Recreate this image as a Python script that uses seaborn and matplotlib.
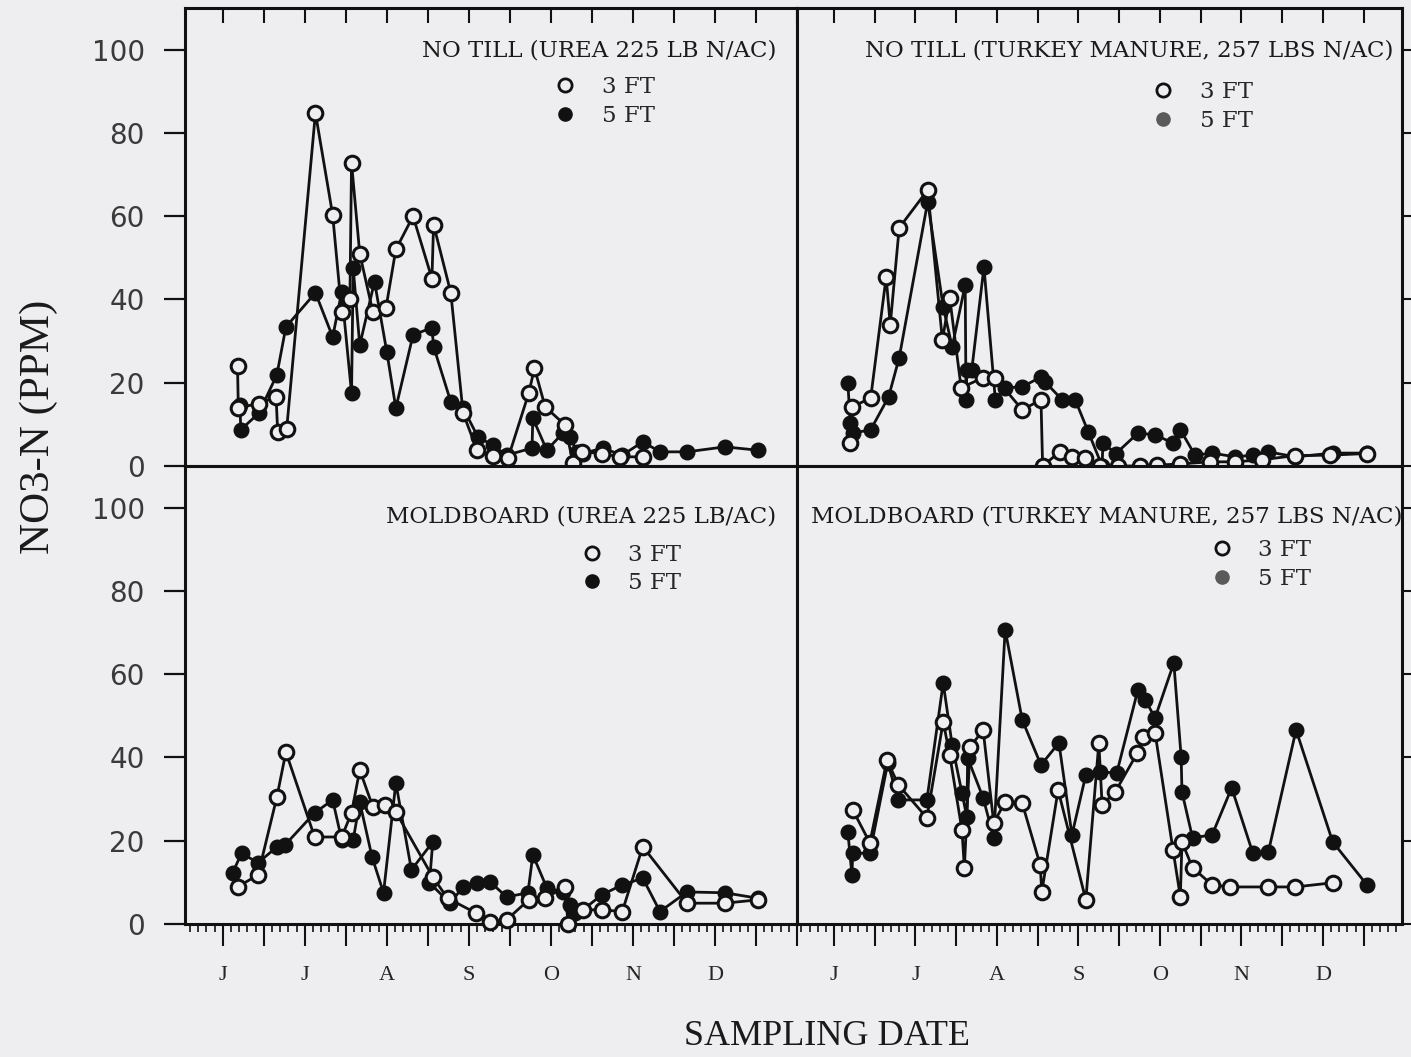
import matplotlib
matplotlib.use("Agg")
import matplotlib.pyplot as plt
import seaborn as sns
from matplotlib.lines import Line2D
from matplotlib.ticker import MultipleLocator, FuncFormatter

# ---------------- data (x in month units: 6.0 = 1 June ... 12.0 = 1 Dec) ----------------
month_ticks = [6, 7, 8, 9, 10, 11, 12]
month_labels = ["J", "J", "A", "S", "O", "N", "D"]
y_ticks = [0, 20, 40, 60, 80, 100]

titles = ["NO TILL (UREA 225 LB N/AC)",
          "NO TILL (TURKEY MANURE, 257 LBS N/AC)",
          "MOLDBOARD (UREA 225 LB/AC)",
          "MOLDBOARD (TURKEY MANURE, 257 LBS N/AC)"]
series_labels = ["3 FT", "5 FT"]

# No till, urea
nt_urea_3ft_x = [6.18, 6.19, 6.44, 6.65, 6.67, 6.78, 7.13, 7.34, 7.45, 7.55, 7.57, 7.67, 7.83, 7.99,
                 8.11, 8.32, 8.55, 8.57, 8.78, 8.93, 9.10, 9.29, 9.48, 9.73, 9.80, 9.93,
                 10.17, 10.27, 10.38, 10.62, 10.84, 11.12]
nt_urea_3ft_y = [24.0, 14.0, 15.0, 16.6, 8.2, 9.0, 84.8, 60.3, 37.0, 40.0, 72.8, 51.0, 37.0, 38.0,
                 52.0, 60.0, 45.0, 58.0, 41.6, 12.7, 3.8, 2.5, 2.0, 17.5, 23.5, 14.2,
                 9.9, 0.7, 3.4, 3.0, 2.2, 2.2]
nt_urea_5ft_x = [6.21, 6.22, 6.44, 6.66, 6.77, 7.13, 7.34, 7.45, 7.57, 7.59, 7.67, 7.85,
                 8.00, 8.11, 8.32, 8.55, 8.57, 8.78, 8.93, 9.11, 9.29, 9.46, 9.77, 9.78, 9.95,
                 10.15, 10.23, 10.32, 10.39, 10.63, 10.87, 11.12, 11.33, 11.66, 12.12, 12.52]
nt_urea_5ft_y = [14.7, 8.7, 12.7, 21.9, 33.4, 41.6, 31.0, 41.8, 17.5, 47.6, 29.0, 44.3,
                 27.4, 13.9, 31.5, 33.2, 28.7, 15.4, 13.9, 7.0, 5.0, 2.6, 4.3, 11.5, 3.8,
                 8.0, 7.0, 3.4, 3.0, 4.3, 2.6, 5.8, 3.4, 3.4, 4.6, 3.8]

# No till, turkey manure
nt_turkey_3ft_x = [6.20, 6.22, 6.45, 6.64, 6.69, 6.80, 7.15, 7.33, 7.42, 7.56, 7.83, 7.98,
                   8.31, 8.54, 8.56, 8.77, 8.92, 9.08, 9.26, 9.48, 9.75, 9.96,
                   10.25, 10.61, 10.92, 11.25, 11.66, 12.09, 12.54]
nt_turkey_3ft_y = [5.5, 14.2, 16.3, 45.4, 33.9, 57.2, 66.3, 30.3, 40.4, 18.8, 21.2, 21.2,
                   13.5, 15.9, 0.0, 3.4, 2.2, 1.9, 0.0, 0.0, 0.0, 0.2,
                   0.5, 1.0, 1.0, 1.5, 2.5, 2.6, 3.0]
nt_turkey_5ft_x = [6.17, 6.20, 6.23, 6.45, 6.67, 6.80, 7.15, 7.34, 7.45, 7.61, 7.62, 7.63, 7.69,
                   7.84, 7.98, 8.10, 8.31, 8.54, 8.59, 8.80, 8.96, 9.12, 9.29, 9.30, 9.46,
                   9.73, 9.94, 10.16, 10.25, 10.43, 10.64, 10.92, 11.14, 11.33, 11.66, 12.12, 12.54]
nt_turkey_5ft_y = [19.9, 10.3, 7.9, 8.7, 16.6, 26.0, 63.5, 38.2, 28.6, 43.5, 15.9, 23.0, 23.0,
                   47.8, 15.9, 18.8, 19.0, 21.4, 20.2, 15.9, 15.9, 8.2, 0.0, 5.5, 3.0,
                   7.9, 7.5, 5.5, 8.7, 2.6, 3.1, 2.2, 2.6, 3.4, 2.2, 3.1, 3.1]

# Moldboard, urea
mb_urea_3ft_x = [6.18, 6.43, 6.66, 6.77, 7.12, 7.45, 7.57, 7.67, 7.83, 7.98, 8.11, 8.56, 8.74,
                 9.09, 9.26, 9.46, 9.73, 9.93, 10.17, 10.21, 10.39, 10.62, 10.87,
                 11.12, 11.66, 12.12, 12.52]
mb_urea_3ft_y = [8.9, 11.8, 30.5, 41.3, 20.9, 20.9, 26.7, 37.0, 28.1, 28.6, 26.9, 11.3, 6.2,
                 2.6, 0.5, 1.0, 5.8, 6.2, 8.9, 0.0, 3.4, 3.4, 3.0,
                 18.6, 5.0, 5.0, 5.8]
mb_urea_5ft_x = [6.12, 6.23, 6.43, 6.66, 6.76, 7.12, 7.34, 7.45, 7.59, 7.67, 7.82, 7.96,
                 8.11, 8.30, 8.56, 8.52, 8.77, 8.93, 9.10, 9.26, 9.46, 9.72, 9.78, 9.95,
                 10.15, 10.23, 10.29, 10.39, 10.62, 10.87, 11.12, 11.33, 11.66, 12.12, 12.52]
mb_urea_5ft_y = [12.3, 17.0, 14.7, 18.5, 19.0, 26.7, 29.8, 20.2, 20.2, 29.3, 16.1, 7.5,
                 33.9, 13.0, 19.7, 9.9, 5.0, 8.9, 9.9, 10.1, 6.5, 7.5, 16.6, 8.7,
                 7.7, 4.6, 2.6, 3.4, 7.0, 9.4, 11.0, 3.0, 7.7, 7.5, 6.2]

# Moldboard, turkey manure
mb_turkey_3ft_x = [6.23, 6.44, 6.65, 6.79, 7.14, 7.34, 7.42, 7.57, 7.60, 7.67, 7.83, 7.96,
                   8.10, 8.31, 8.53, 8.55, 8.75, 9.09, 9.25, 9.29, 9.45, 9.72, 9.79, 9.94,
                   10.16, 10.25, 10.27, 10.40, 10.64, 10.86, 11.33, 11.66, 12.12]
mb_turkey_3ft_y = [27.4, 19.5, 39.4, 33.4, 25.5, 48.6, 40.6, 22.6, 13.5, 42.5, 46.6, 24.3,
                   29.3, 29.0, 14.2, 7.7, 32.2, 5.8, 43.5, 28.6, 31.7, 41.0, 45.0, 45.9,
                   17.8, 6.5, 19.7, 13.5, 9.4, 8.9, 8.9, 8.9, 9.9]
mb_turkey_5ft_x = [6.17, 6.22, 6.23, 6.44, 6.66, 6.79, 7.14, 7.34, 7.45, 7.57, 7.63, 7.64, 7.83, 7.96,
                   8.10, 8.31, 8.54, 8.76, 8.92, 9.09, 9.26, 9.47, 9.73, 9.82, 9.94,
                   10.17, 10.26, 10.27, 10.40, 10.64, 10.88, 11.14, 11.33, 11.67, 12.12, 12.54]
mb_turkey_5ft_y = [22.1, 11.8, 17.0, 17.0, 38.7, 29.8, 29.8, 57.9, 43.0, 31.5, 25.7, 39.9, 30.3, 20.7,
                   70.7, 49.0, 38.2, 43.5, 21.4, 35.8, 36.5, 36.3, 56.3, 53.8, 49.5,
                   62.7, 40.1, 31.7, 20.7, 21.4, 32.7, 17.0, 17.3, 46.6, 19.7, 9.4]

# ---------------- style ----------------
BG = "#eeeef0"
INK = "#111111"
sns.set_style("white", rc={"axes.facecolor": BG, "figure.facecolor": BG,
                           "axes.edgecolor": INK})
plt.rcParams["font.family"] = ["DejaVu Sans"]

W, H = 1411, 1057
fig = plt.figure(figsize=(W / 100, H / 100), dpi=100)
fig.patch.set_facecolor(BG)

def px_axes(x0, y0, x1, y1):
    return fig.add_axes([x0 / W, 1 - y1 / H, (x1 - x0) / W, (y1 - y0) / H])

axTL = px_axes(185, 8, 797, 466)
axTR = px_axes(797, 8, 1402, 466)
axBL = px_axes(185, 466, 797, 924)
axBR = px_axes(797, 466, 1402, 924)

panels = [
    (axTL, nt_urea_3ft_x, nt_urea_3ft_y, nt_urea_5ft_x, nt_urea_5ft_y, (5.54, 13.0)),
    (axTR, nt_turkey_3ft_x, nt_turkey_3ft_y, nt_turkey_5ft_x, nt_turkey_5ft_y, (5.546, 12.97)),
    (axBL, mb_urea_3ft_x, mb_urea_3ft_y, mb_urea_5ft_x, mb_urea_5ft_y, (5.54, 13.0)),
    (axBR, mb_turkey_3ft_x, mb_turkey_3ft_y, mb_turkey_5ft_x, mb_turkey_5ft_y, (5.546, 12.97)),
]

def month_fmt(v, pos):
    r = int(round(v))
    if abs(v - r) < 1e-6 and r in month_ticks:
        return month_labels[month_ticks.index(r)]
    return ""

for i, (ax, x3, y3, x5, y5, xl) in enumerate(panels):
    sns.lineplot(x=x5, y=y5, ax=ax, estimator=None, sort=False, legend=False,
                 color=INK, lw=2.0, marker="o", markersize=10.5,
                 markerfacecolor=INK, markeredgecolor=INK, markeredgewidth=1.0,
                 zorder=3, clip_on=False)
    sns.lineplot(x=x3, y=y3, ax=ax, estimator=None, sort=False, legend=False,
                 color=INK, lw=2.0, marker="o", markersize=10.5,
                 markerfacecolor=BG, markeredgecolor=INK, markeredgewidth=2.2,
                 zorder=4, clip_on=False)
    ax.set_xlim(*xl)
    ax.set_ylim(0, 110)
    ax.set_xlabel("")
    ax.set_ylabel("")
    for s in ax.spines.values():
        s.set_linewidth(2.2)
        s.set_color(INK)
    ax.xaxis.set_major_locator(MultipleLocator(0.5))
    ax.xaxis.set_minor_locator(MultipleLocator(0.1))
    ax.yaxis.set_major_locator(MultipleLocator(20))
    ax.tick_params(which="both", left=False, right=False, top=False, bottom=False,
                   labelleft=False, labelright=False, labeltop=False, labelbottom=False)
    top = i < 2
    left = i % 2 == 0
    if top:
        ax.tick_params(axis="x", which="major", top=True, direction="in",
                       length=11, width=1.5, color=INK)
    else:
        ax.xaxis.set_major_formatter(FuncFormatter(month_fmt))
        ax.tick_params(axis="x", which="major", bottom=True, labelbottom=True,
                       direction="out", length=16, width=1.5, pad=14,
                       labelsize=16, color=INK)
        ax.tick_params(axis="x", which="minor", bottom=True, direction="out",
                       length=6, width=1.2, color=INK)
        for lab in ax.get_xticklabels():
            lab.set_family("Liberation Serif")
    ax.set_yticks(y_ticks)
    if left:
        ax.tick_params(axis="y", which="major", left=True, labelleft=True,
                       direction="out", length=15, width=1.6, pad=14,
                       labelsize=20, labelcolor="#3a3a3a", color=INK)
    else:
        ax.tick_params(axis="y", which="major", right=True, direction="out",
                       length=7, width=1.5, color=INK)

# panel titles
title_pos = [(0.966, 0.908), (0.985, 0.908), (0.966, 0.889), (1.0, 0.889)]
for ax, t, (tx, ty) in zip([axTL, axTR, axBL, axBR], titles, title_pos):
    ax.text(tx, ty, t, transform=ax.transAxes, ha="right", va="center",
            fontsize=16.5, family="DejaVu Serif", color="#1a1a1a", zorder=6)

# legends
leg_pos = [(0.602, 0.795), (0.586, 0.785), (0.646, 0.775), (0.683, 0.785)]
leg_5_col = [INK, "#5a5a5a", INK, "#5a5a5a"]
for ax, (lx, ly), c5 in zip([axTL, axTR, axBL, axBR], leg_pos, leg_5_col):
    h3 = Line2D([], [], ls="", marker="o", ms=9.5, mfc=BG, mec=INK, mew=2.0)
    h5 = Line2D([], [], ls="", marker="o", ms=9.5, mfc=c5, mec=c5, mew=1.0)
    ax.legend([h3, h5], series_labels, loc="center left",
              bbox_to_anchor=(lx, ly), frameon=False, borderpad=0,
              borderaxespad=0, handlelength=1.0, handletextpad=1.1,
              labelspacing=0.3, prop={"family": "DejaVu Serif", "size": 16.5})

fig.text(0.0276, 0.596, "NO3-N (PPM)", rotation=90, ha="center", va="center",
         fontsize=31, family="Liberation Serif", color="#1a1a1a")
fig.text(0.586, 0.019, "SAMPLING DATE", ha="center", va="center",
         fontsize=26, family="Liberation Serif", color="#1a1a1a")

fig.savefig("out.png", dpi=100, facecolor=BG)
